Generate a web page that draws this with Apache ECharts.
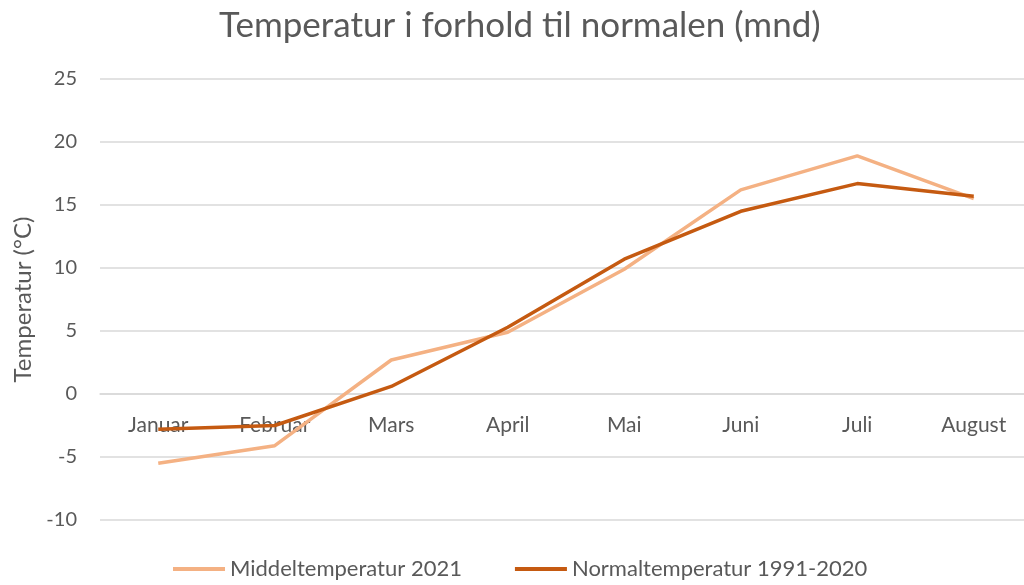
<!DOCTYPE html>
<html>
<head>
<meta charset="utf-8">
<script src="https://cdn.jsdelivr.net/npm/echarts@6/dist/echarts.min.js"></script>
<style>
  html, body { margin: 0; padding: 0; background: #fff; }
  #chart { width: 1024px; height: 585px; }
</style>
</head>
<body>
<div id="chart"></div>
<script>
// måneder
var months = ['Januar', 'Februar', 'Mars', 'April', 'Mai', 'Juni', 'Juli', 'August'];
// middeltemperatur 2021
var middel2021 = [-5.5, -4.1, 2.7, 4.9, 9.9, 16.2, 18.9, 15.5];
// normaltemperatur 1991-2020
var normal = [-2.8, -2.5, 0.6, 5.3, 10.7, 14.5, 16.7, 15.7];
var seriesNames = ['Middeltemperatur 2021', 'Normaltemperatur 1991-2020'];

var font = 'Lato, "Open Sans", sans-serif';
var textColor = '#595959';

var chart = echarts.init(document.getElementById('chart'));
var option = {
    backgroundColor: '#fff',
    animation: false,
    title: {
        text: 'Temperatur i forhold til normalen (mnd)',
        left: 214,
        top: 3,
        textStyle: { fontFamily: font, fontSize: 35, fontWeight: 'normal', color: textColor }
    },
    legend: {
        bottom: 0,
        left: 168,
        itemWidth: 52,
        itemHeight: 4,
        itemGap: 53,
        icon: 'rect',
        textStyle: { fontFamily: font, fontSize: 22, color: textColor },
        data: seriesNames
    },
    grid: {
        left: 100,
        width: 932,
        top: 79,
        height: 441,
        outerBoundsMode: 'none'
    },
    xAxis: {
        type: 'category',
        data: months,
        boundaryGap: true,
        // aksen ligger på 0-linja
        offset: -126,
        axisLine: { lineStyle: { color: '#d9d9d9', width: 1.5 } },
        axisTick: { show: false },
        axisLabel: { fontFamily: font, fontSize: 21, color: textColor, margin: 21 }
    },
    yAxis: {
        type: 'value',
        min: -10,
        max: 25,
        interval: 5,
        name: 'Temperatur (°C)',
        nameLocation: 'middle',
        nameGap: 64,
        nameTextStyle: { fontFamily: font, fontSize: 24, color: textColor },
        axisLine: { show: false },
        axisTick: { show: false },
        axisLabel: { fontFamily: font, fontSize: 20, color: textColor, margin: 23 },
        splitLine: { lineStyle: { color: '#d9d9d9', width: 1.5 } }
    },
    series: [
        {
            name: seriesNames[0],
            type: 'line',
            data: middel2021,
            symbol: 'none',
            lineStyle: { color: '#F4B183', width: 3.5 },
            itemStyle: { color: '#F4B183' }
        },
        {
            name: seriesNames[1],
            type: 'line',
            data: normal,
            symbol: 'none',
            lineStyle: { color: '#C55A11', width: 3.5 },
            itemStyle: { color: '#C55A11' }
        }
    ]
};
chart.setOption(option);
</script>
</body>
</html>
